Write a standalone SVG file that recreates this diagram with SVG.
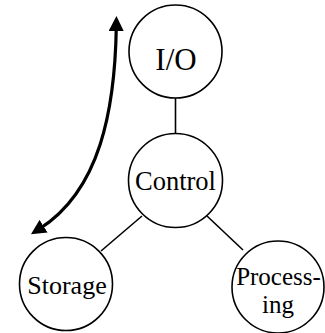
<svg xmlns="http://www.w3.org/2000/svg" width="325" height="333" viewBox="0 0 325 333">
<style>
.n{fill:#fff;stroke:#000;stroke-width:1.6}
.e{stroke:#000;stroke-width:1.6;fill:none}
text{fill:#000;text-anchor:middle;font-family:'Liberation Serif',Tinos,'Times New Roman',Times,'Nimbus Roman','FreeSerif','DejaVu Serif','Noto Serif',serif}
</style>
<defs>
<marker id="ah" viewBox="0 0 10 10" refX="3" refY="5" markerWidth="15" markerHeight="15" orient="auto-start-reverse" markerUnits="userSpaceOnUse">
<path d="M0,0 L10,5 L0,10 Z" fill="#000"/>
</marker>
</defs>
<g id="connectors">
<line class="e" x1="175.5" y1="98" x2="175.5" y2="133"/>
<line class="e" x1="142" y1="216" x2="101" y2="251"/>
<line class="e" x1="207" y1="216" x2="243" y2="250"/>
<path d="M116.3,26.5 C115,110 100,190 39.8,228.6" fill="none" stroke="#000" stroke-width="3.2" marker-start="url(#ah)" marker-end="url(#ah)"/>
</g>
<g id="io"><circle class="n" cx="175.5" cy="51.5" r="46.5"/><text x="176" y="70" font-size="31">I/O</text></g>
<g id="control"><circle class="n" cx="175.5" cy="180.5" r="47"/><text x="175.5" y="190" font-size="26.5">Control</text></g>
<g id="storage"><circle class="n" cx="66" cy="284" r="46.5"/><text x="67" y="294" font-size="26">Storage</text></g>
<g id="processing"><circle class="n" cx="278" cy="287" r="46"/><text x="278.5" y="285" font-size="25">Process-</text><text x="278" y="313" font-size="25">ing</text></g>
</svg>
